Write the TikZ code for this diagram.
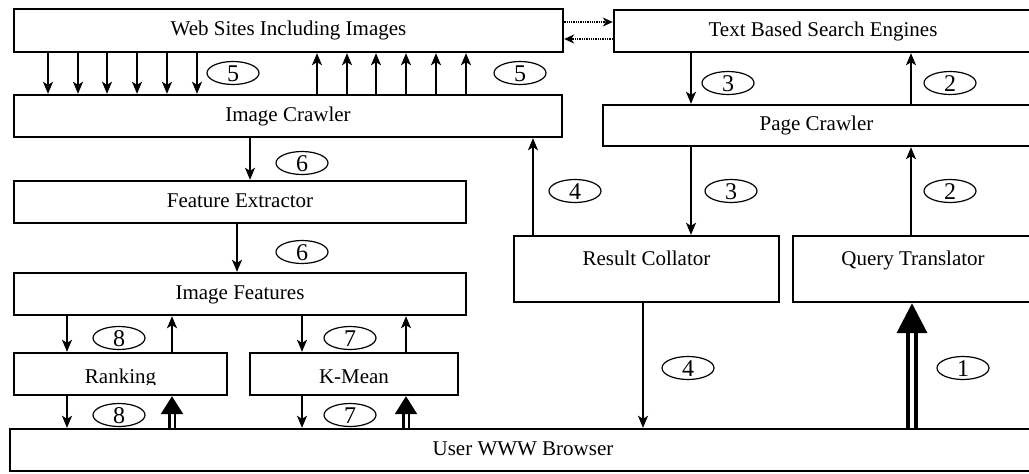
\documentclass[tikz,border=0pt]{standalone}
\usepackage{fontspec}
\setmainfont{Liberation Serif}
\usetikzlibrary{arrows.meta,shapes.geometric}
\begin{document}
\begin{tikzpicture}[x=1pt,y=-1pt,
  box/.style={draw,line width=2.4pt,rectangle,inner sep=0pt,text height=14pt,text depth=4pt,font=\fontsize{21}{25}\selectfont},
  num/.style={draw,ellipse,line width=1.2pt,minimum width=52pt,minimum height=23pt,inner sep=0pt,text height=16pt,text depth=0pt,font=\fontsize{24}{26}\selectfont},
  arr/.style={line width=1.7pt,-{Stealth[length=12pt,width=10pt,inset=3pt]}},
  dotarr/.style={line width=1.3pt,densely dotted,-{Stealth[length=10pt,width=9pt,inset=3pt]}},
  dbl/.style={line width=2.6pt,double distance=3pt,-{Triangle[length=18pt,width=22pt]}},
  bigdbl/.style={line width=3.8pt,double distance=3.5pt,-{Triangle[length=30pt,width=30pt]}}
]
\useasboundingbox (0,0) rectangle (1029,474);
\clip (0,0) rectangle (1029,474);
% boxes
\node[box,minimum width=549pt,minimum height=43pt] (ws) at (288.5,30.5) {Web Sites Including Images};
\node[box,minimum width=418pt,minimum height=42pt] (tbs) at (823,31) {Text Based Search Engines};
\node[box,minimum width=548pt,minimum height=42pt] (ic) at (288,116) {Image Crawler};
\node[box,minimum width=427pt,minimum height=41pt] (pc) at (816.5,125.5) {Page Crawler};
\node[box,minimum width=452pt,minimum height=42pt] (fe) at (240,202) {Feature Extractor};
\node[box,minimum width=452pt,minimum height=42pt] (if) at (240,294) {Image Features};
\node[box,minimum width=213pt,minimum height=42pt] (rk) at (120.5,374) {};
\begin{scope}
\clip (14,353) rectangle (227,384);
\node[box,draw=none,text height=20pt,text depth=2pt] (rkt) at (120.5,374) {Ranking};
\end{scope}
\node[box,minimum width=208pt,minimum height=42pt,text height=20pt,text depth=2pt] (km) at (354,374) {K-Mean};
\node[box,minimum width=265pt,minimum height=66pt,text depth=22pt] (rc) at (646.5,269) {Result Collator};
\node[box,minimum width=240pt,minimum height=66pt,text depth=22pt] (qt) at (913,269) {Query Translator};
\node[box,minimum width=1026pt,minimum height=42pt] (br) at (523,450) {User WWW Browser};
% web sites <-> image crawler
\foreach \x in {48,78,107,137,167,197}
  \draw[arr] (ws.south -| \x,0) -- (ic.north -| \x,0);
\foreach \x in {317,347,376,406,436,466}
  \draw[arr] (ic.north -| \x,0) -- (ws.south -| \x,0);
\node[num] (n5a) at (233,73) {5};
\node[num] (n5b) at (520,73) {5};
% dotted between web sites and search engines
\draw[dotarr] ([yshift=8.5pt]ws.east) -- ([yshift=8.5pt]ws.east -| tbs.west);
\draw[dotarr] ([yshift=-8pt]tbs.west) -- ([yshift=-8pt]tbs.west -| ws.east);
% search engines / page crawler
\draw[arr] (tbs.south -| 691,0) -- (pc.north -| 691,0);
\draw[arr] (pc.north -| 911,0) -- (tbs.south -| 911,0);
\node[num] (n3a) at (728,83) {3};
\node[num] (n2a) at (950,83) {2};
\draw[arr] (pc.south -| 691,0) -- (rc.north -| 691,0);
\draw[arr] (qt.north -| 911,0) -- (pc.south -| 911,0);
\node[num] (n3b) at (731,191) {3};
\node[num] (n2b) at (950,191) {2};
% result collator
\draw[arr] (rc.north -| 533,0) -- (ic.south -| 533,0);
\node[num] (n4a) at (575,191) {4};
\draw[arr] (rc.south -| 643,0) -- (br.north -| 643,0);
\node[num] (n4b) at (688,368) {4};
% browser -> query translator
\draw[bigdbl] (br.north -| 912,0) -- (qt.south -| 912,0);
\node[num] (n1) at (963,368) {1};
% image pipeline
\draw[arr] (ic.south -| 250,0) -- (fe.north -| 250,0);
\node[num] (n6a) at (302,163) {6};
\draw[arr] (fe.south -| 237,0) -- (if.north -| 237,0);
\node[num] (n6b) at (302,252) {6};
\draw[arr] (if.south -| 67,0) -- (rk.north -| 67,0);
\draw[arr] (rk.north -| 172,0) -- (if.south -| 172,0);
\node[num] (n8a) at (119,338) {8};
\draw[arr] (if.south -| 302,0) -- (km.north -| 302,0);
\draw[arr] (km.north -| 406,0) -- (if.south -| 406,0);
\node[num] (n7a) at (350,338) {7};
\draw[arr] (rk.south -| 67,0) -- (br.north -| 67,0);
\draw[dbl] (br.north -| 172,0) -- (rk.south -| 172,0);
\node[num] (n8b) at (119,415) {8};
\draw[arr] (km.south -| 302,0) -- (br.north -| 302,0);
\draw[dbl] (br.north -| 406,0) -- (km.south -| 406,0);
\node[num] (n7b) at (350,415) {7};
\end{tikzpicture}
\end{document}
